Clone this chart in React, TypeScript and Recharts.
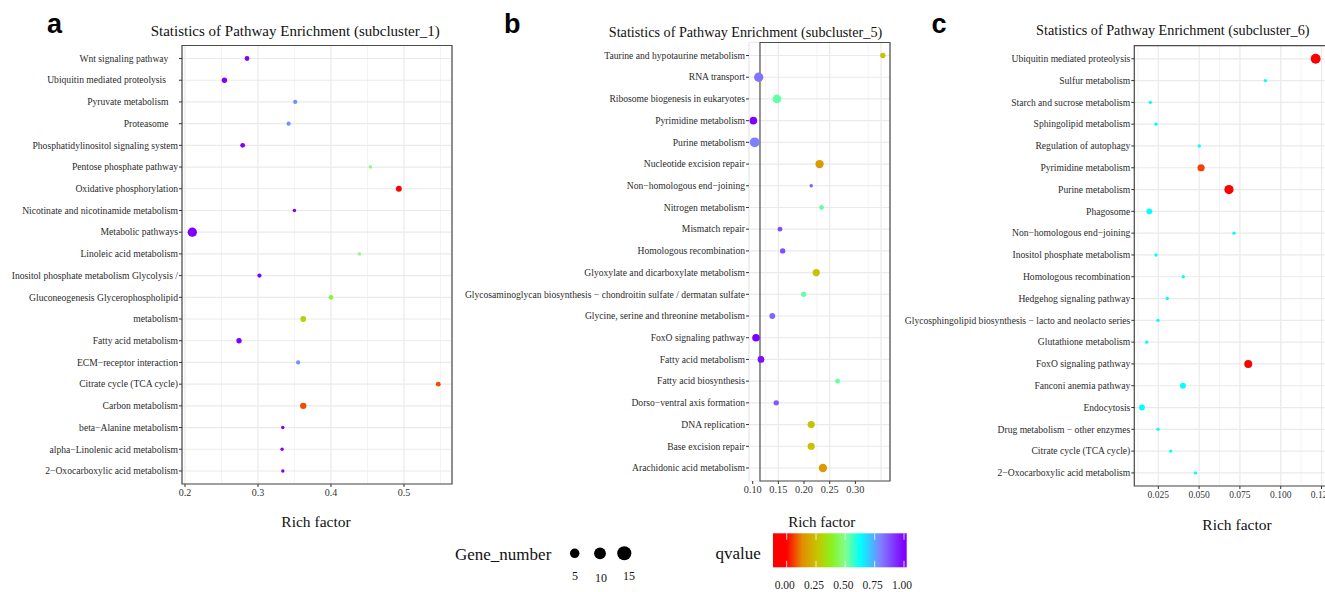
import React from 'react';
import { ScatterChart, Scatter, XAxis, YAxis, CartesianGrid, ReferenceArea } from 'recharts';

const SERIF = '"Liberation Serif", "Times New Roman", Times, serif';
const SANS = '"Liberation Sans", Arial, Helvetica, sans-serif';
const NB = '\u00A0';

// ---------- qvalue colour scale ----------
const qStops = [0, 0.13, 0.27, 0.38, 0.5, 0.63, 0.8, 1.0];
const qColors = ['#FF0000', '#E38C00', '#C4C800', '#8CF01E', '#7FFF8C', '#00FFFF', '#8080FF', '#8000FF'];
const qLegendTicks = [0, 0.25, 0.5, 0.75, 1.0];

// ---------- Gene_number legend ----------
const geneLegend = [5, 10, 15];

// ---------- Panel a (subcluster_1) ----------
const catsA = [
  'Wnt signaling pathway' + NB + NB + NB + NB,
  'Ubiquitin mediated proteolysis' + NB + NB + NB + NB + NB,
  'Pyruvate metabolism' + NB + NB + NB + NB,
  'Proteasome' + NB + NB + NB + NB,
  'Phosphatidylinositol signaling system',
  'Pentose phosphate pathway',
  'Oxidative phosphorylation',
  'Nicotinate and nicotinamide metabolism',
  'Metabolic pathways',
  'Linoleic acid metabolism',
  'Inositol phosphate metabolism Glycolysis /',
  'Gluconeogenesis Glycerophospholipid',
  'metabolism',
  'Fatty acid metabolism',
  'ECM\u2212receptor interaction',
  'Citrate cycle (TCA cycle)',
  'Carbon metabolism',
  'beta\u2212Alanine metabolism',
  'alpha\u2212Linolenic acid metabolism',
  '2\u2212Oxocarboxylic acid metabolism',
];
const richA = [0.285, 0.254, 0.351, 0.342, 0.279, 0.454, 0.493, 0.350, 0.210, 0.439, 0.302, 0.400, 0.362, 0.274, 0.355, 0.547, 0.362, 0.334, 0.333, 0.334];
const qA = [1, 1, 0.78, 0.78, 1, 0.48, 0, 1, 1, 0.48, 1, 0.41, 0.3, 1, 0.78, 0.07, 0.07, 1, 1, 1];
const geneA = [4, 5, 3, 3, 4, 2, 6, 2, 15, 2, 3, 4, 6, 5, 3, 4, 7, 2, 2, 2];
const ticksA = [0.2, 0.3, 0.4, 0.5];
const gridMajorA = [0.2, 0.3, 0.4, 0.5];
const gridMinorA = [0.25, 0.35, 0.45, 0.55];

// ---------- Panel b (subcluster_5) ----------
const catsB = [
  'Taurine and hypotaurine metabolism',
  'RNA transport',
  'Ribosome biogenesis in eukaryotes',
  'Pyrimidine metabolism',
  'Purine metabolism',
  'Nucleotide excision repair',
  'Non\u2212homologous end\u2212joining',
  'Nitrogen metabolism',
  'Mismatch repair',
  'Homologous recombination',
  'Glyoxylate and dicarboxylate metabolism',
  'Glycosaminoglycan biosynthesis \u2212 chondroitin sulfate / dermatan sulfate',
  'Glycine, serine and threonine metabolism',
  'FoxO signaling pathway',
  'Fatty acid metabolism',
  'Fatty acid biosynthesis',
  'Dorso\u2212ventral axis formation',
  'DNA replication',
  'Base excision repair',
  'Arachidonic acid metabolism',
];
const richB = [0.3535, 0.1117, 0.1473, 0.1013, 0.1039, 0.2303, 0.214, 0.2342, 0.1531, 0.1584, 0.2238, 0.1992, 0.1382, 0.1064, 0.1162, 0.2654, 0.1459, 0.214, 0.214, 0.2368];
const qB = [0.26, 0.82, 0.53, 1, 0.8, 0.16, 0.86, 0.53, 0.88, 0.88, 0.26, 0.53, 0.84, 1, 0.98, 0.53, 0.86, 0.26, 0.26, 0.16];
const geneB = [5, 15, 13, 10, 17, 12, 2, 4, 4, 5, 9, 5, 6, 10, 8, 4, 5, 9, 9, 12];
const ticksB = [0.1, 0.15, 0.2, 0.25, 0.3];
const gridMajorB = [0.1, 0.15, 0.2, 0.25, 0.3, 0.35];
const gridMinorB = [0.125, 0.175, 0.225, 0.275, 0.325];

// ---------- Panel c (subcluster_6) ----------
const catsC = [
  'Ubiquitin mediated proteolysis',
  'Sulfur metabolism',
  'Starch and sucrose metabolism',
  'Sphingolipid metabolism',
  'Regulation of autophagy',
  'Pyrimidine metabolism',
  'Purine metabolism',
  'Phagosome',
  'Non\u2212homologous end\u2212joining',
  'Inositol phosphate metabolism',
  'Homologous recombination',
  'Hedgehog signaling pathway',
  'Glycosphingolipid biosynthesis \u2212 lacto and neolacto series',
  'Glutathione metabolism',
  'FoxO signaling pathway',
  'Fanconi anemia pathway',
  'Endocytosis',
  'Drug metabolism \u2212 other enzymes',
  'Citrate cycle (TCA cycle)',
  '2\u2212Oxocarboxylic acid metabolism',
];
const richC = [0.1214, 0.0906, 0.0201, 0.0236, 0.0501, 0.0512, 0.0683, 0.0195, 0.0714, 0.0236, 0.0403, 0.0305, 0.0248, 0.0179, 0.0801, 0.0401, 0.0150, 0.0248, 0.0326, 0.0477];
const qC = [0, 0.63, 0.63, 0.63, 0.63, 0.06, 0, 0.63, 0.63, 0.63, 0.63, 0.63, 0.63, 0.63, 0, 0.63, 0.63, 0.63, 0.63, 0.63];
const geneC = [17, 2, 2, 2, 2, 9, 15, 6, 2, 2, 2, 2, 2, 2, 11, 6, 6, 2, 2, 2];
const ticksC = [0.025, 0.05, 0.075, 0.1, 0.125];
const gridMajorC = [0.025, 0.05, 0.075, 0.1, 0.125];
const gridMinorC = [0.0125, 0.0375, 0.0625, 0.0875, 0.1125];

// ---------- helpers ----------
function hexToRgb(h: string) {
  const n = parseInt(h.slice(1), 16);
  return [(n >> 16) & 255, (n >> 8) & 255, n & 255];
}
function qColor(q: number) {
  if (q <= qStops[0]) return qColors[0];
  for (let i = 1; i < qStops.length; i++) {
    if (q <= qStops[i]) {
      const t = (q - qStops[i - 1]) / (qStops[i] - qStops[i - 1]);
      const a = hexToRgb(qColors[i - 1]);
      const b = hexToRgb(qColors[i]);
      const c = a.map((v, k) => Math.round(v + (b[k] - v) * t));
      return `rgb(${c[0]},${c[1]},${c[2]})`;
    }
  }
  return qColors[qColors.length - 1];
}
const geneRadius = (g: number) => 1.2 * Math.sqrt(g);
const legendRadius = (g: number) => 3.6 + 0.23 * g;

type PanelProps = {
  cats: string[];
  rich: number[];
  q: number[];
  gene: number[];
  domain: [number, number];
  ticks: number[];
  gridMajor: number[];
  gridMinor: number[];
  digits: number;
  boxX1: number;
  left: number;
  width: number;
  height: number;
  margin: { top: number; right: number; bottom: number; left: number };
  yWidth: number;
  xFont: number;
};

function Panel(p: PanelProps) {
  const data = p.cats.map((c, i) => ({ name: c, x: p.rich[i], y: i, q: p.q[i], g: p.gene[i] }));
  const idx = p.cats.map((_, i) => i);
  const yDomain: [number, number] = [-0.6, p.cats.length - 1 + 0.6];
  const renderDot = (props: any) => {
    const d = props.payload;
    if (props.cx == null || props.cy == null) return <g />;
    return <circle cx={props.cx} cy={props.cy} r={geneRadius(d.g)} fill={qColor(d.q)} />;
  };
  const yTick = (props: any) => {
    const v = props.payload?.value;
    return (
      <text
        x={props.x}
        y={props.y}
        dy="0.34em"
        textAnchor="end"
        fontFamily={SERIF}
        fontSize={9.6}
        fill="#2b2b2b"
        style={{ whiteSpace: 'pre' }}
      >
        {p.cats[v] ?? ''}
      </text>
    );
  };
  const xTick = (props: any) => {
    const v = props.payload?.value;
    return (
      <text x={props.x} y={props.y} dy="0.71em" textAnchor="middle" fontFamily={SERIF} fontSize={p.xFont} fill="#333">
        {typeof v === 'number' ? v.toFixed(p.digits) : ''}
      </text>
    );
  };
  return (
    <div style={{ position: 'absolute', left: p.left, top: 0, width: p.width, height: p.height }}>
      <ScatterChart width={p.width} height={p.height} margin={p.margin}>
        <XAxis xAxisId="minor" type="number" dataKey="x" domain={p.domain} ticks={p.gridMinor} allowDataOverflow hide />
        <XAxis xAxisId="major" type="number" dataKey="x" domain={p.domain} ticks={p.gridMajor} allowDataOverflow hide />
        <CartesianGrid xAxisId="minor" horizontal={false} stroke="#F1F1F1" strokeWidth={0.8} />
        <CartesianGrid xAxisId="major" stroke="#EAEAEA" strokeWidth={1.2} />
        <XAxis
          type="number"
          dataKey="x"
          domain={p.domain}
          ticks={p.ticks}
          interval={0}
          allowDataOverflow
          height={20}
          tickSize={3}
          tickMargin={2}
          axisLine={false}
          tickLine={{ stroke: '#333' }}
          tick={xTick}
        />
        <YAxis
          type="number"
          dataKey="y"
          domain={yDomain}
          ticks={idx}
          interval={0}
          reversed
          allowDataOverflow
          width={p.yWidth}
          tickSize={3}
          tickMargin={1}
          axisLine={false}
          tickLine={{ stroke: '#333' }}
          tick={yTick}
        />
        <ReferenceArea
          x1={p.boxX1}
          x2={p.domain[1]}
          y1={yDomain[0]}
          y2={yDomain[1]}
          fill="none"
          fillOpacity={0}
          stroke="#4d4d4d"
          strokeWidth={1.2}
          ifOverflow="visible"
        />
        <Scatter data={data} isAnimationActive={false} shape={renderDot} />
      </ScatterChart>
    </div>
  );
}

function Overlay() {
  const barX0 = 773, barX1 = 906.7, barY0 = 533.3, barY1 = 567.3;
  const q0 = 786.7, q1 = 904;
  const qx = (q: number) => q0 + q * (q1 - q0);
  const off = (q: number) => (qx(q) - barX0) / (barX1 - barX0);
  const gx = [574.7, 600, 624.3];
  const gLabelX = [575, 601, 629];
  return (
    <svg width={1325} height={592} style={{ position: 'absolute', left: 0, top: 0, pointerEvents: 'none' }}>
      <defs>
        <linearGradient id="qgrad" x1="0" y1="0" x2="1" y2="0">
          {qStops.map((s, i) => (
            <stop key={i} offset={off(s)} stopColor={qColors[i]} />
          ))}
        </linearGradient>
      </defs>
      <text x={47} y={33} fontFamily={SANS} fontWeight="bold" fontSize={27} fill="#000">a</text>
      <text x={504} y={33} fontFamily={SANS} fontWeight="bold" fontSize={27} fill="#000">b</text>
      <text x={931.5} y={33} fontFamily={SANS} fontWeight="bold" fontSize={27} fill="#000">c</text>
      <text x={295.2} y={36} textAnchor="middle" fontFamily={SERIF} fontSize={15} fill="#111">Statistics of Pathway Enrichment (subcluster_1)</text>
      <text x={745.5} y={37} textAnchor="middle" fontFamily={SERIF} fontSize={14.2} fill="#111">Statistics of Pathway Enrichment (subcluster_5)</text>
      <text x={1172.8} y={34.5} textAnchor="middle" fontFamily={SERIF} fontSize={14.2} fill="#111">Statistics of Pathway Enrichment (subcluster_6)</text>
      <text x={316} y={527} textAnchor="middle" fontFamily={SERIF} fontSize={15.5} fill="#111">Rich factor</text>
      <text x={821.7} y={527} textAnchor="middle" fontFamily={SERIF} fontSize={15} fill="#111">Rich factor</text>
      <text x={1237} y={530} textAnchor="middle" fontFamily={SERIF} fontSize={15.5} fill="#111">Rich factor</text>
      <text x={455} y={559.5} fontFamily={SERIF} fontSize={17} fill="#111">Gene_number</text>
      {geneLegend.map((g, i) => (
        <g key={g}>
          <circle cx={gx[i]} cy={553.3} r={legendRadius(g)} fill="#000" />
          <text x={gLabelX[i]} y={i === 1 ? 581.5 : 580} textAnchor="middle" fontFamily={SERIF} fontSize={12} fill="#111">{g}</text>
        </g>
      ))}
      <text x={715.5} y={559} fontFamily={SERIF} fontSize={17} fill="#111">qvalue</text>
      <rect x={barX0} y={barY0} width={barX1 - barX0} height={barY1 - barY0} fill="url(#qgrad)" />
      {qLegendTicks.map((t) => (
        <g key={t}>
          <line x1={qx(t)} x2={qx(t)} y1={barY0} y2={barY0 + 6.5} stroke="#fff" strokeWidth={1} opacity={0.8} />
          <line x1={qx(t)} x2={qx(t)} y1={barY1 - 6.5} y2={barY1} stroke="#fff" strokeWidth={1} opacity={0.8} />
          <text x={qx(t) - 2} y={589} textAnchor="middle" fontFamily={SERIF} fontSize={11.5} fill="#222">{t.toFixed(2)}</text>
        </g>
      ))}
    </svg>
  );
}

export default function App() {
  return (
    <div style={{ position: 'fixed', left: 0, top: 0, width: 1325, height: 592, overflow: 'hidden', background: '#fff' }}>
      <Panel
        cats={catsA}
        rich={richA}
        q={qA}
        gene={geneA}
        domain={[0.1959, 0.5658]}
        ticks={ticksA}
        gridMajor={gridMajorA}
        gridMinor={gridMinorA}
        digits={1}
        boxX1={0.1959}
        left={0}
        width={460}
        height={510}
        margin={{ top: 45.5, right: 8, bottom: 6, left: 0 }}
        yWidth={182}
        xFont={10}
      />
      <Panel
        cats={catsB}
        rich={richB}
        q={qB}
        gene={geneB}
        domain={[0.0928, 0.3675]}
        ticks={ticksB}
        gridMajor={gridMajorB}
        gridMinor={gridMinorB}
        digits={2}
        boxX1={0.1142}
        left={460}
        width={440}
        height={510}
        margin={{ top: 42.5, right: 10, bottom: 9, left: 0 }}
        yWidth={289}
        xFont={10.3}
      />
      <Panel
        cats={catsC}
        rich={richC}
        q={qC}
        gene={geneC}
        domain={[0.0103, 0.13]}
        ticks={ticksC}
        gridMajor={gridMajorC}
        gridMinor={gridMinorC}
        digits={3}
        boxX1={0.0103}
        left={895}
        width={440}
        height={510}
        margin={{ top: 45.7, right: 5.3, bottom: 4, left: 0 }}
        yWidth={239.3}
        xFont={9.5}
      />
      <Overlay />
    </div>
  );
}
